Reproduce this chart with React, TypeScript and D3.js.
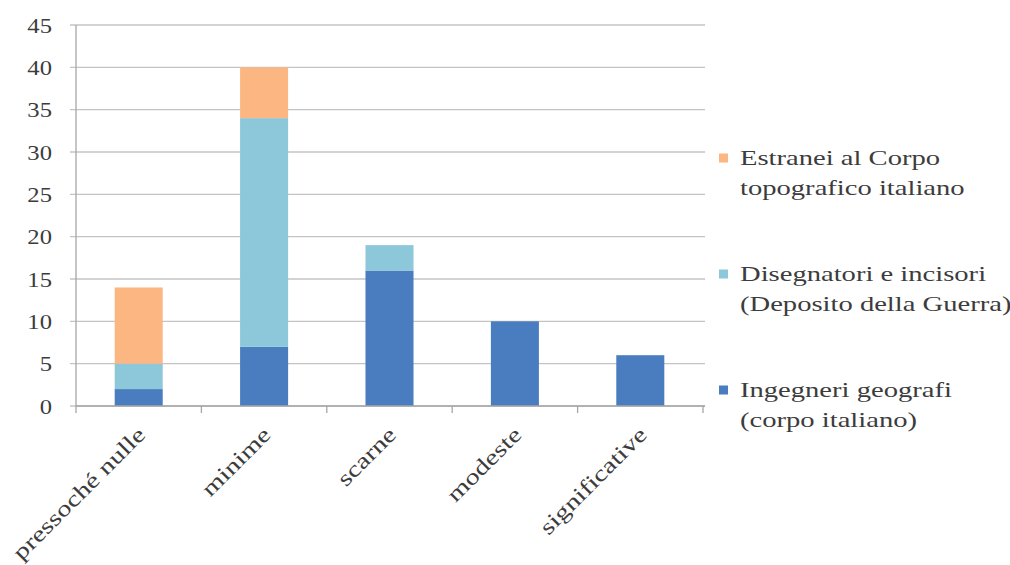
import React from "react";
import * as d3 from "d3";

const categories = ["pressoché nulle", "minime", "scarne", "modeste", "significative"];
const ingegneri = [2, 7, 16, 10, 6];
const disegnatori = [3, 27, 3, 0, 0];
const estranei = [9, 6, 0, 0, 0];
const yTicks = [0, 5, 10, 15, 20, 25, 30, 35, 40, 45];
const seriesKeys = ["ingegneri", "disegnatori", "estranei"];
const seriesLabels: Record<string, string[]> = {
  ingegneri: ["Ingegneri geografi", "(corpo italiano)"],
  disegnatori: ["Disegnatori e incisori", "(Deposito della Guerra)"],
  estranei: ["Estranei al Corpo", "topografico italiano"],
};
const seriesColors: Record<string, string> = {
  ingegneri: "#4a7dbf",
  disegnatori: "#8cc8da",
  estranei: "#fcb682",
};

const W = 1010;
const H = 565;
const X0 = 76;
const X1 = 703;
const Y0 = 406;
const Y1 = 25;
const FONT = "'Liberation Serif', 'Times New Roman', serif";
const TEXT = "#3c3c3c";

export default function App() {
  const rows = categories.map((c, i) => ({
    cat: c,
    ingegneri: ingegneri[i],
    disegnatori: disegnatori[i],
    estranei: estranei[i],
  }));
  const x = d3.scaleBand<string>().domain(categories).range([X0, X1]).paddingInner(0.617).paddingOuter(0.3085);
  const y = d3.scaleLinear().domain([0, 45]).range([Y0, Y1]);
  const stacked = d3.stack<any>().keys(seriesKeys)(rows);
  const step = x.step();
  const boundaries = d3.range(categories.length + 1).map((i) => X0 + i * step);

  const legendTops = [158, 274, 390];
  const legendOrder = [...seriesKeys].reverse();

  return (
    <svg width={W} height={H} style={{ position: "absolute", left: 0, top: 0, background: "#fff" }}>
      {/* gridlines */}
      {yTicks.map((t) => (
        <line key={"g" + t} x1={X0 - 6} x2={X1 + 2} y1={y(t)} y2={y(t)} stroke="#c4c4c4" strokeWidth={1.3} />
      ))}
      {/* y axis */}
      <line x1={X0} x2={X0} y1={Y1} y2={Y0} stroke="#a6a6a6" strokeWidth={1.3} />
      {yTicks.map((t) => (
        <g key={"t" + t} transform={`translate(${X0 - 24},${y(t)}) scale(1.12,1)`}>
          <text textAnchor="end" dy="0.35em" fontFamily={FONT} fontSize={22} fill={TEXT}>
            {t}
          </text>
        </g>
      ))}
      {/* bars */}
      {stacked.map((s) =>
        s.map((d, i) =>
          d[1] - d[0] > 0 ? (
            <rect
              key={s.key + i}
              x={x(categories[i])}
              width={x.bandwidth()}
              y={y(d[1])}
              height={y(d[0]) - y(d[1])}
              fill={seriesColors[s.key]}
            />
          ) : null
        )
      )}
      {/* x axis */}
      <line x1={X0} x2={X1 + 2} y1={Y0} y2={Y0} stroke="#a6a6a6" strokeWidth={1.3} />
      {boundaries.map((b, i) => (
        <line key={"b" + i} x1={b} x2={b} y1={Y0} y2={Y0 + 7} stroke="#a6a6a6" strokeWidth={1.3} />
      ))}
      {categories.map((c) => (
        <g key={"x" + c} transform={`translate(${(x(c) as number) + x.bandwidth() / 2 + 8},${Y0 + 30}) rotate(-45) scale(1.3,1)`}>
          <text textAnchor="end" fontFamily={FONT} fontSize={22} fill={TEXT}>
            {c}
          </text>
        </g>
      ))}
      {/* legend */}
      {legendOrder.map((k, i) => (
        <g key={"l" + k} transform={`translate(719,${legendTops[i]})`}>
          <rect x={0} y={-4.5} width={9} height={9} fill={seriesColors[k]} />
          {seriesLabels[k].map((line, j) => (
            <g key={j} transform={`translate(21,${j * 30 + 7}) scale(1.3,1)`}>
              <text fontFamily={FONT} fontSize={22} fill={TEXT}>
                {line}
              </text>
            </g>
          ))}
        </g>
      ))}
    </svg>
  );
}
